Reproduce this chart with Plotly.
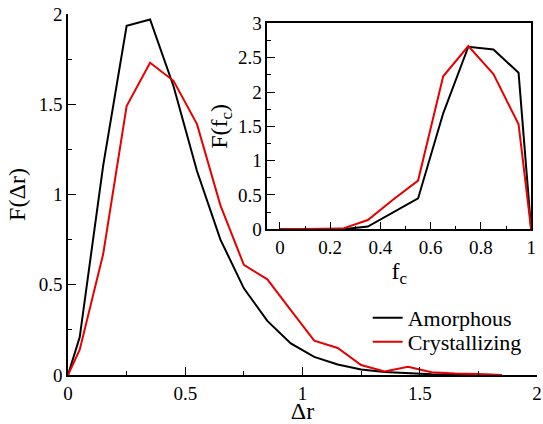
import plotly.graph_objects as go

# Main panel data
dr = [0, 0.05, 0.15, 0.25, 0.35, 0.45, 0.55, 0.65, 0.75, 0.85, 0.95, 1.05, 1.15, 1.25, 1.35, 1.45, 1.55, 1.65, 1.75, 1.85]
F_amorphous = [0, 0.21, 1.16, 1.935, 1.97, 1.60, 1.13, 0.75, 0.48, 0.30, 0.175, 0.10, 0.058, 0.03, 0.016, 0.008, 0.004, 0.002, 0.001, 0]
F_crystal = [0, 0.14, 0.67, 1.49, 1.73, 1.63, 1.39, 0.94, 0.61, 0.53, 0.36, 0.19, 0.15, 0.055, 0.02, 0.046, 0.015, 0.008, 0.006, 0]

# Inset data
fc = [0, 0.05, 0.15, 0.25, 0.35, 0.45, 0.55, 0.65, 0.75, 0.85, 0.95, 1.0]
Ffc_amorphous = [0, 0, 0, 0.0, 0.04, 0.24, 0.45, 1.69, 2.66, 2.62, 2.28, 0]
Ffc_crystal = [0, 0, 0, 0.01, 0.135, 0.43, 0.71, 2.23, 2.67, 2.26, 1.53, 0]

main_ticks = [0, 0.5, 1, 1.5, 2]
main_ticktext = ["0", "0.5", "1", "1.5", "2"]
inset_xticks = [0, 0.2, 0.4, 0.6, 0.8, 1]
inset_xticktext = ["0", "0.2", "0.4", "0.6", "0.8", "1"]
inset_yticks = [0, 0.5, 1, 1.5, 2, 2.5, 3]
inset_yticktext = ["0", "0.5", "1", "1.5", "2", "2.5", "3"]

FONT = "Liberation Serif, Times New Roman, serif"
BLACK = "#000000"
RED = "#e60000"

fig = go.Figure()
fig.add_trace(go.Scatter(x=dr, y=F_amorphous, mode="lines", name="Amorphous",
                         line=dict(color=BLACK, width=2), legend="legend"))
fig.add_trace(go.Scatter(x=dr, y=F_crystal, mode="lines", name="Crystallizing",
                         line=dict(color=RED, width=2), legend="legend2"))
fig.add_trace(go.Scatter(x=fc, y=Ffc_amorphous, mode="lines", showlegend=False,
                         line=dict(color=BLACK, width=2), xaxis="x2", yaxis="y2"))
fig.add_trace(go.Scatter(x=fc, y=Ffc_crystal, mode="lines", showlegend=False,
                         line=dict(color=RED, width=2), xaxis="x2", yaxis="y2"))

axis_common = dict(showline=True, linecolor=BLACK, linewidth=1.5, ticks="inside",
                   ticklen=8, tickwidth=1.3, tickcolor=BLACK, showgrid=False, zeroline=False,
                   tickfont=dict(family=FONT, size=19, color=BLACK))

legend_common = dict(xanchor="left", yanchor="middle", bgcolor="rgba(0,0,0,0)",
                     font=dict(family=FONT, size=22, color=BLACK), itemwidth=30)

fig.update_layout(
    width=543, height=424,
    margin=dict(l=68, r=1, t=14, b=49),
    plot_bgcolor="white", paper_bgcolor="white",
    font=dict(family=FONT, color=BLACK),
    xaxis=dict(range=[0, 2], tickvals=main_ticks, ticktext=main_ticktext,
               minor=dict(dtick=0.25, ticks="inside", ticklen=4, tickcolor=BLACK, tickwidth=1.3),
               title=dict(text="Δr", font=dict(family=FONT, size=24), standoff=0),
               **axis_common),
    yaxis=dict(range=[0, 2], tickvals=main_ticks, ticktext=main_ticktext,
               minor=dict(dtick=0.25, ticks="inside", ticklen=4, tickcolor=BLACK, tickwidth=1.3),
               title=dict(text="F(Δr)", font=dict(family=FONT, size=24), standoff=6),
               **axis_common),
    xaxis2=dict(domain=[0.425, 0.9875], anchor="y2", range=[-0.05, 1],
                tickvals=inset_xticks, ticktext=inset_xticktext, mirror=True,
                minor=dict(dtick=0.1, ticks="inside", ticklen=4, tickcolor=BLACK, tickwidth=1.3),
                title=dict(text="f<sub>c</sub>", font=dict(family=FONT, size=24), standoff=0),
                **axis_common),
    yaxis2=dict(domain=[0.4036, 0.974], anchor="x2", range=[0, 3],
                tickvals=inset_yticks, ticktext=inset_yticktext, mirror=True,
                minor=dict(dtick=0.25, ticks="inside", ticklen=4, tickcolor=BLACK, tickwidth=1.3),
                title=dict(text="F(f<sub>c</sub>)", font=dict(family=FONT, size=24), standoff=4),
                **axis_common),
    legend=dict(x=0.639, y=0.158, **legend_common),
    legend2=dict(x=0.639, y=0.0914, **legend_common),
    showlegend=True,
)

fig.write_html("out.html", config={"displayModeBar": False},
               post_script="document.body.style.margin='0';document.body.style.padding='0';")
